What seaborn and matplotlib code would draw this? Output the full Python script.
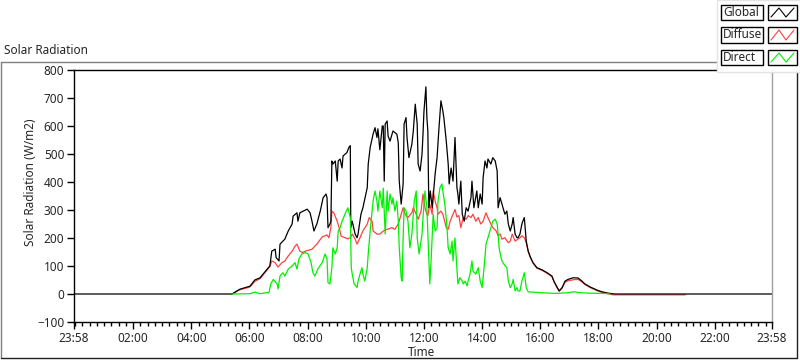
import matplotlib
matplotlib.use("Agg")
import matplotlib.pyplot as plt
import seaborn as sns
import pandas as pd
from matplotlib.lines import Line2D
from matplotlib.patches import Rectangle

# ---- data (time in minutes of the day, value in W/m2) ----
GLOBAL_MIN = [-2, 324, 340, 361, 371, 382, 388, 402, 406, 413, 415, 421, 423, 433, 440,
              448, 450, 458, 460, 464, 479, 485, 489, 493, 499, 506, 512, 518, 520, 522,
              526, 528, 530, 532, 537, 541, 543, 547, 551, 553, 561, 565, 568, 569, 572,
              578, 582, 584, 590, 594, 603, 605, 609, 615, 619, 623, 625, 629, 634, 636,
              638, 640, 644, 646, 650, 656, 664, 667, 669, 673, 677, 679, 683, 685, 689,
              695, 698, 702, 706, 708, 712, 716, 718, 720, 724, 726, 728, 730, 733, 737,
              743, 747, 751, 755, 759, 761, 766, 770, 772, 776, 780, 784, 788, 790, 792,
              796, 799, 803, 807, 811, 817, 819, 823, 829, 832, 836, 840, 842, 846, 850,
              852, 858, 862, 867, 871, 873, 877, 881, 883, 887, 891, 894, 898, 902, 904,
              908, 912, 914, 918, 922, 924, 927, 931, 935, 939, 945, 953, 964, 974, 984,
              988, 995, 999, 1005, 1011, 1017, 1028, 1038, 1046, 1052, 1063, 1077, 1087,
              1100, 1114, 1438]
GLOBAL_VAL = [0, 0, 17, 28, 50, 58, 71, 100, 153, 160, 130, 118, 178, 196, 225,
              250, 278, 290, 260, 290, 303, 290, 260, 225, 250, 296, 344, 357, 344, 237,
              250, 260, 475, 464, 475, 403, 475, 482, 450, 493, 505, 523, 530, 237, 260,
              214, 201, 214, 285, 308, 380, 464, 523, 571, 594, 559, 590, 515, 600, 600,
              403, 607, 618, 564, 546, 582, 571, 540, 403, 321, 393, 607, 630, 559, 487,
              535, 582, 678, 607, 464, 439, 500, 571, 653, 740, 630, 582, 308, 368, 308,
              428, 487, 594, 690, 653, 630, 546, 464, 393, 450, 403, 559, 380, 357, 321,
              403, 285, 260, 308, 296, 344, 403, 308, 368, 308, 357, 321, 415, 475, 450,
              482, 464, 487, 475, 439, 308, 344, 321, 308, 285, 296, 250, 225, 250, 273,
              214, 201, 201, 214, 250, 260, 273, 189, 153, 134, 112, 94, 86, 76, 64,
              46, 23, 11, 23, 46, 52, 58, 57, 46, 36, 25, 14, 8,
              3, 0, 0]

DIFFUSE_MIN = [324, 340, 361, 371, 382, 388, 402, 406, 413, 419, 427, 433, 440, 448, 454,
               458, 464, 470, 475, 489, 499, 510, 520, 524, 528, 530, 534, 541, 545, 549,
               557, 563, 568, 572, 578, 582, 588, 594, 603, 607, 613, 615, 623, 629, 636,
               644, 654, 660, 667, 673, 677, 681, 687, 695, 698, 704, 708, 714, 718, 722,
               726, 728, 732, 737, 739, 743, 747, 749, 755, 759, 766, 770, 774, 780, 784,
               788, 792, 796, 801, 807, 811, 817, 821, 827, 832, 837, 842, 848, 852, 858,
               862, 869, 873, 877, 881, 887, 894, 898, 902, 908, 914, 918, 922, 927, 931,
               935, 939, 945, 953, 964, 974, 984, 988, 995, 999, 1005, 1011, 1017, 1028,
               1038, 1046, 1052, 1063, 1077, 1087, 1100, 1110, 1259]
DIFFUSE_VAL = [0, 15, 25, 45, 55, 68, 98, 118, 112, 96, 112, 118, 136, 153, 171,
               178, 153, 148, 153, 160, 178, 204, 211, 201, 237, 296, 290, 260, 237, 207,
               201, 197, 201, 214, 196, 178, 201, 225, 250, 273, 260, 225, 214, 214, 225,
               231, 237, 231, 250, 285, 308, 285, 273, 290, 308, 285, 267, 296, 357, 308,
               285, 280, 321, 285, 368, 332, 308, 285, 296, 285, 237, 231, 260, 285, 302,
               275, 280, 237, 273, 267, 280, 273, 285, 260, 273, 250, 260, 290, 273, 250,
               237, 225, 208, 214, 196, 201, 183, 189, 214, 189, 196, 201, 208, 201, 183,
               153, 132, 110, 92, 84, 74, 62, 45, 22, 10, 21, 42, 47, 51,
               52, 43, 34, 23, 12, 6, 1, -3, -3]

DIRECT_MIN = [324, 361, 371, 382, 396, 400, 404, 409, 417, 419, 423, 429, 433, 440, 448,
              454, 458, 462, 468, 475, 481, 487, 491, 495, 501, 510, 516, 520, 522, 526,
              530, 532, 537, 541, 543, 547, 551, 557, 563, 568, 570, 572, 576, 582, 584,
              588, 592, 594, 598, 603, 605, 609, 613, 615, 619, 623, 625, 629, 634, 636,
              640, 644, 646, 650, 654, 656, 660, 664, 667, 669, 673, 675, 677, 679, 683,
              687, 691, 695, 698, 700, 704, 706, 710, 716, 718, 722, 726, 728, 732, 735,
              739, 743, 747, 749, 753, 757, 759, 763, 767, 770, 774, 778, 780, 784, 788,
              790, 794, 799, 801, 805, 809, 811, 815, 819, 821, 827, 832, 836, 840, 842,
              844, 848, 850, 852, 856, 860, 862, 867, 871, 873, 875, 879, 881, 885, 891,
              894, 898, 902, 904, 908, 912, 914, 918, 922, 924, 927, 931, 935, 939, 960,
              990, 1000, 1015, 1030, 1040, 1060, 1090, 1104]
DIRECT_VAL = [0, 1, 7, 1, 5, 4, 36, 52, 36, 18, 64, 76, 64, 89, 100,
              112, 89, 125, 143, 148, 143, 112, 76, 64, 89, 112, 143, 125, 41, 36,
              94, 165, 143, 165, 225, 237, 260, 285, 308, 273, 94, 71, 36, 23, 46,
              71, 94, 71, 46, 94, 143, 225, 296, 332, 368, 332, 296, 368, 308, 378,
              214, 368, 296, 357, 321, 344, 296, 332, 260, 165, 58, 46, 201, 308, 296,
              260, 165, 214, 285, 332, 368, 201, 143, 214, 273, 368, 308, 214, 36, 130,
              285, 225, 237, 332, 380, 393, 368, 321, 250, 165, 143, 189, 118, 200, 94,
              36, 58, 46, 36, 46, 29, 46, 71, 118, 82, 71, 94, 46, 23, 58,
              94, 178, 189, 201, 225, 250, 260, 267, 250, 214, 165, 130, 118, 106, 94,
              46, 23, 36, 52, 11, 23, 11, 11, 46, 58, 76, 23, 8, 7, 5,
              2, 3, 4, 8, 5, 3, 2, 0]

SERIES = ["Global", "Diffuse", "Direct"]
COLORS = {"Global": "#000000", "Diffuse": "#ff4040", "Direct": "#00f000"}
DRAW_ORDER = ["Diffuse", "Global", "Direct"]

X_TICKS = [-2, 120, 240, 360, 480, 600, 720, 840, 960, 1080, 1200, 1320, 1438]
X_LABELS = ["23:58", "02:00", "04:00", "06:00", "08:00", "10:00", "12:00",
            "14:00", "16:00", "18:00", "20:00", "22:00", "23:58"]
Y_TICKS = [-100, 0, 100, 200, 300, 400, 500, 600, 700, 800]

# ---- long-form table ----
df = pd.concat([
    pd.DataFrame({"minute": GLOBAL_MIN, "value": GLOBAL_VAL, "series": "Global"}),
    pd.DataFrame({"minute": DIFFUSE_MIN, "value": DIFFUSE_VAL, "series": "Diffuse"}),
    pd.DataFrame({"minute": DIRECT_MIN, "value": DIRECT_VAL, "series": "Direct"}),
], ignore_index=True)

sns.set_style("white")
FONT = ["Noto Sans", "DejaVu Sans"]
plt.rcParams["font.family"] = FONT
plt.rcParams["font.size"] = 8.5

W, H = 800, 361
fig = plt.figure(figsize=(W / 100, H / 100), dpi=100)
fig.patch.set_facecolor("white")

def fx(px):
    return px / W

def fy(py):
    return 1 - py / H

ax = fig.add_axes([fx(74), fy(322), fx(772) - fx(74), fy(70) - fy(322)])
sns.lineplot(data=df, x="minute", y="value", hue="series", hue_order=DRAW_ORDER,
             palette=COLORS, estimator=None, sort=False, legend=False,
             linewidth=0.9, ax=ax)

ax.set_xlim(X_TICKS[0], X_TICKS[-1])
ax.set_ylim(-100, 800)
ax.set_xticks(X_TICKS)
ax.set_xticklabels(X_LABELS)
ax.set_xticks(list(range(0, 1438, 15)), minor=True)
ax.set_yticks(Y_TICKS)
ax.tick_params(axis="both", which="major", direction="out", length=5, width=1,
               color="black", labelsize=8.5, pad=2)
ax.tick_params(axis="x", which="minor", direction="out", length=3, width=1, color="black")
ax.tick_params(axis="x", which="both", bottom=True)
ax.tick_params(axis="y", which="both", left=True)
for s in ["left", "bottom", "top"]:
    ax.spines[s].set_color("black")
    ax.spines[s].set_linewidth(1)
ax.spines["right"].set_color("#a0a0a0")
ax.spines["right"].set_linewidth(1)

ax.set_xlabel("Time", fontsize=8.5)
ax.xaxis.label.set_verticalalignment("center")
ax.xaxis.set_label_coords((421 - 74) / 698, (322 - 353) / 252)
ax.set_ylabel("Solar Radiation (W/m2)", fontsize=8.5)
ax.yaxis.label.set_verticalalignment("center")
ax.yaxis.set_label_coords((31 - 74) / 698, (322 - 182) / 252)

# title
fig.text(fx(4), fy(50), "Solar Radiation", ha="left", va="center", fontsize=8.5)

# outer sunken frame
frame = [((1, 62), (797, 62), "#808080"), ((1, 62), (1, 358), "#808080"),
         ((1, 358), (797, 358), "#202020"), ((797, 62), (797, 358), "#202020")]
for (x0, y0), (x1, y1), c in frame:
    fig.add_artist(Line2D([fx(x0), fx(x1)], [fy(y0), fy(y1)], color=c, lw=1,
                          transform=fig.transFigure))

# legend panel
fig.add_artist(Rectangle((fx(717), fy(72)), fx(800) - fx(717), fy(0) - fy(72),
                         transform=fig.transFigure, facecolor="white",
                         edgecolor="#e4e4e4", lw=1, zorder=5))
rows = [(5, 20), (27, 43), (50, 65)]
for name, (top, bot) in zip(SERIES, rows):
    fig.add_artist(Rectangle((fx(721), fy(bot)), fx(763) - fx(721), fy(top) - fy(bot),
                             transform=fig.transFigure, facecolor="white",
                             edgecolor="black", lw=1, zorder=6))
    fig.text(fx(723), (fy(top) + fy(bot)) / 2, name, ha="left", va="center",
             fontsize=8.5, zorder=7)
    fig.add_artist(Rectangle((fx(768), fy(bot)), fx(797) - fx(768), fy(top) - fy(bot),
                             transform=fig.transFigure, facecolor="white",
                             edgecolor="black", lw=1, zorder=6))
    zx = [771, 779, 786, 794]
    zy = [bot - 3, top + 3, bot - 3, top + 3]
    fig.add_artist(Line2D([fx(v) for v in zx], [fy(v) for v in zy],
                          color=COLORS[name], lw=0.8, transform=fig.transFigure,
                          zorder=7))

fig.savefig("out.png", dpi=100, facecolor="white")
